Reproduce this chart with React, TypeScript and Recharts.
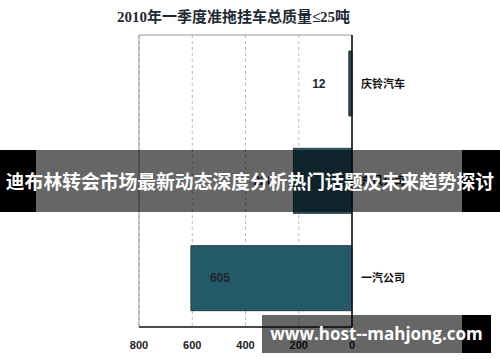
import { Bar, BarChart, CartesianGrid, Cell, LabelList, ReferenceArea, XAxis, YAxis } from "recharts";

const categories = ["庆铃汽车", "东风公司", "一汽公司"];
const values = [12, 220, 605];
const xTicks = [0, 200, 400, 600, 800];
const barColors = ["#2b4450", "#245a68", "#245a68"];

const data = categories.map((name, i) => ({ name, value: values[i] }));

function ValueLabel(props: any) {
  const { x, y, width, height, value } = props;
  const left = Math.min(x, x + width);
  const w = Math.abs(width);
  const cx = w > 60 ? left + 29 : left - 30;
  return (
    <text
      x={cx}
      y={y + height / 2}
      textAnchor="middle"
      dominantBaseline="central"
      fontFamily="'Liberation Sans', Arial, sans-serif"
      fontWeight="bold"
      fontSize={12}
      fill="#1c262b"
    >
      {value}
    </text>
  );
}

export default function App() {
  return (
    <div style={{ position: "fixed", left: 0, top: 0, width: 500, height: 362, background: "#fff", overflow: "hidden" }}>
      <div
        style={{
          position: "absolute",
          left: 0,
          width: 467,
          top: 8,
          textAlign: "center",
          fontFamily: "'Liberation Serif', 'Noto Sans CJK SC', serif",
          fontWeight: "bold",
          fontSize: 15,
          color: "#1e2a33",
          lineHeight: "19px"
        }}
      >
        2010年一季度准拖挂车总质量≤25吨
      </div>

      <BarChart
        width={500}
        height={362}
        data={data}
        layout="vertical"
        margin={{ top: 35, right: 0, bottom: 0, left: 139 }}
        barSize={65}
      >
        <CartesianGrid horizontal={false} stroke="#b8b8b8" strokeDasharray="3 3" />
        <ReferenceArea x1={0} x2={800} fill="none" stroke="#9a9a9a" strokeWidth={1} ifOverflow="visible" />
        <XAxis
          type="number"
          reversed
          domain={[0, 800]}
          ticks={xTicks}
          height={35}
          tickLine={false}
          tickSize={0}
          tickMargin={14}
          axisLine={{ stroke: "#222", strokeWidth: 1.5 }}
          tick={{ fontSize: 11, fontWeight: "bold", fill: "#222", fontFamily: "'Liberation Sans', Arial, sans-serif" }}
        />
        <YAxis
          type="category"
          dataKey="name"
          orientation="right"
          width={148}
          tickLine={false}
          tickSize={0}
          tickMargin={9}
          axisLine={{ stroke: "#111", strokeWidth: 1.5 }}
          tick={{ fontSize: 11, fontWeight: "bold", fill: "#111", fontFamily: "'Noto Sans CJK SC', sans-serif", textAnchor: "start" }}
        />
        <Bar dataKey="value" stroke="#2a3a40" strokeWidth={1} isAnimationActive={false}>
          {data.map((d, i) => (
            <Cell key={d.name} fill={barColors[i]} />
          ))}
          <LabelList dataKey="value" content={<ValueLabel />} />
        </Bar>
      </BarChart>

      <div
        style={{
          position: "absolute",
          left: 0,
          top: 150,
          width: 500,
          height: 62,
          background: "linear-gradient(90deg, #000 0px, #000 36px, rgba(0,0,0,0.6) 36px, rgba(0,0,0,0.6) 462px, #000 462px)",
          color: "#fff",
          fontFamily: "'Noto Sans CJK SC', sans-serif",
          fontWeight: "bold",
          fontSize: 18.8,
          lineHeight: "62px",
          textAlign: "center",
          whiteSpace: "nowrap"
        }}
      >
        迪布林转会市场最新动态深度分析热门话题及未来趋势探讨
      </div>

      <div
        style={{
          position: "absolute",
          left: 262,
          top: 315,
          width: 229,
          height: 38,
          background: "linear-gradient(90deg, rgba(0,0,0,0.6) 0px, rgba(0,0,0,0.6) 200px, #000 200px)",
          color: "#fff",
          fontFamily: "'Open Sans', 'DejaVu Sans', sans-serif",
          fontWeight: "bold",
          fontSize: 17,
          lineHeight: "38px",
          textAlign: "center",
          whiteSpace: "nowrap"
        }}
      >
        www.host--mahjong.com
      </div>
    </div>
  );
}
